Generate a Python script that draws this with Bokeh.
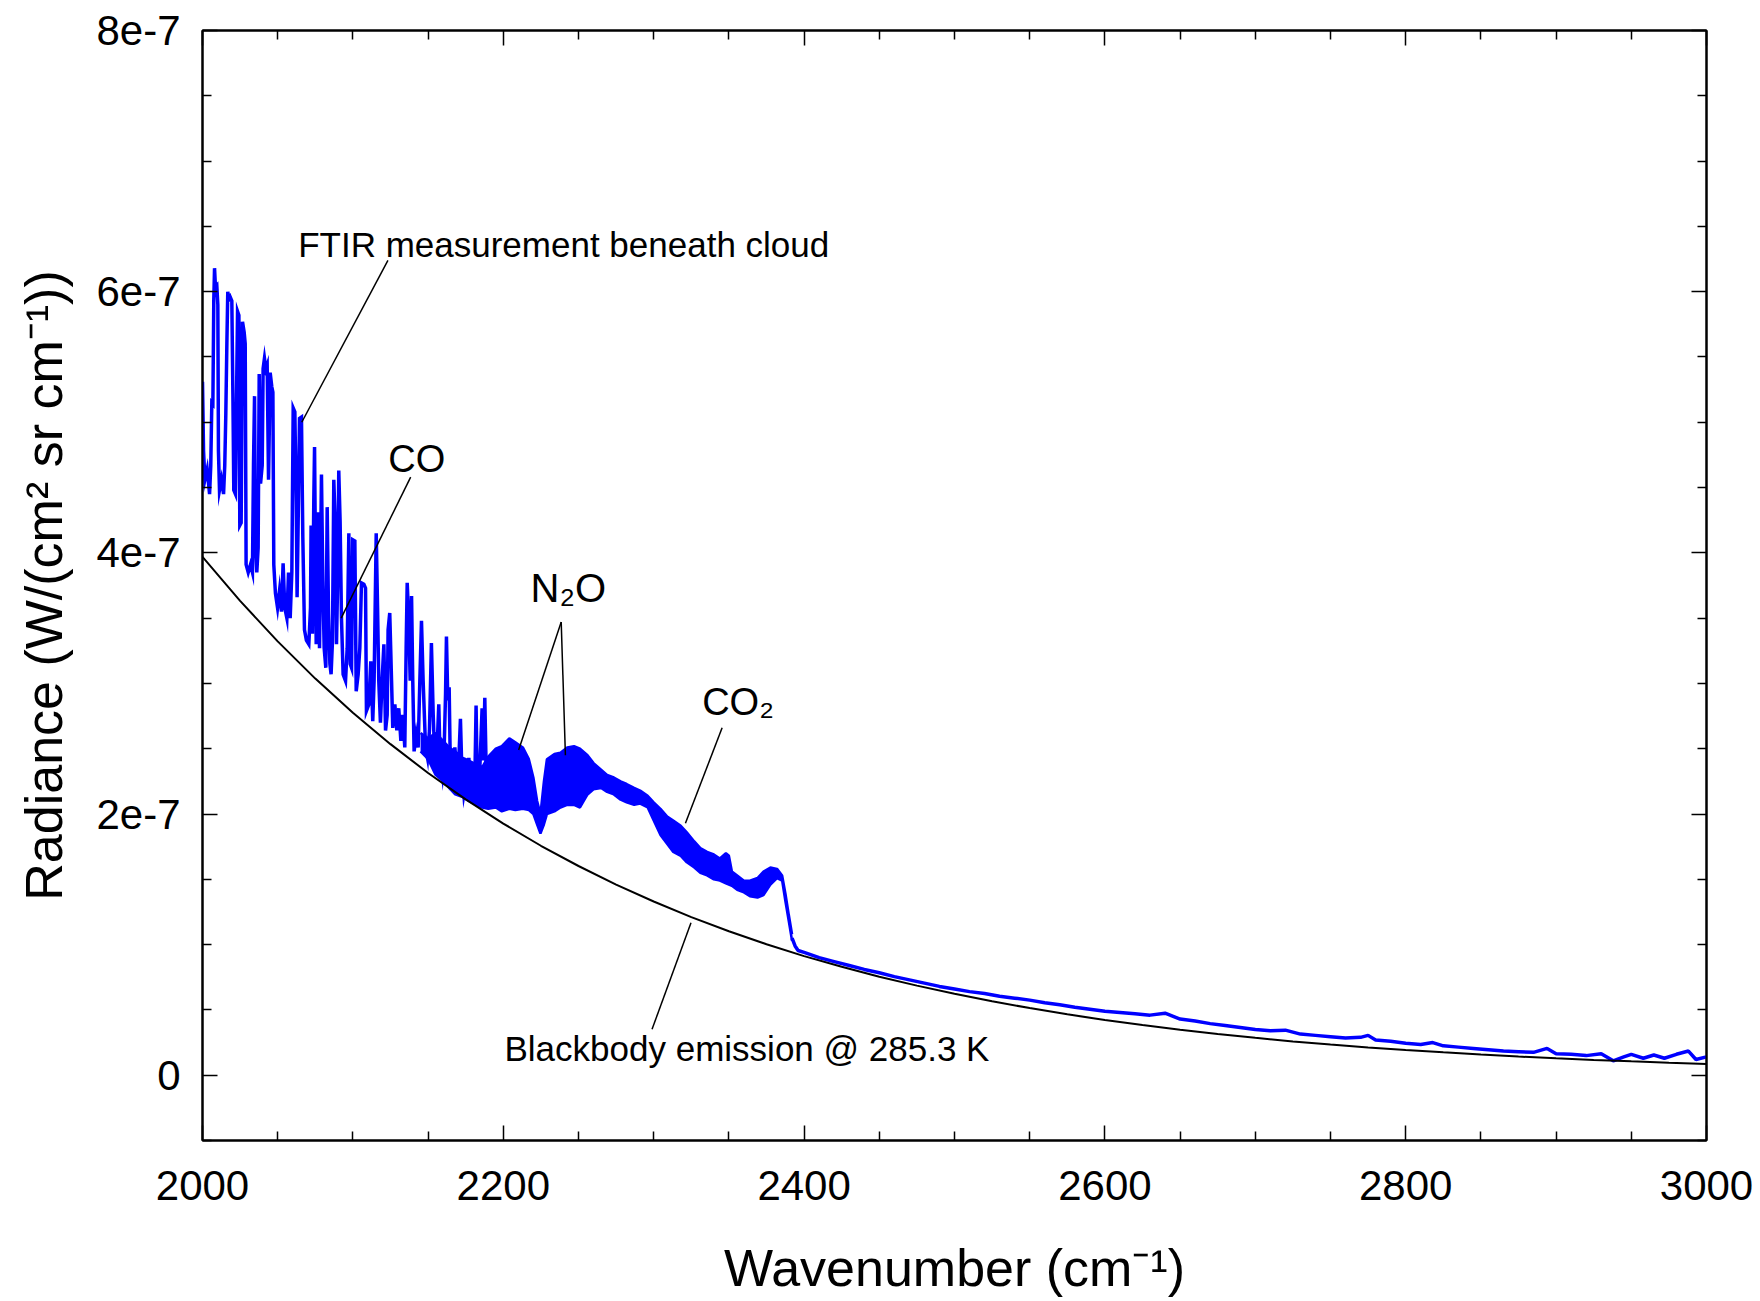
from bokeh.plotting import figure
from bokeh.models import Range1d, LinearAxis, FixedTicker, CustomJSTickFormatter, ColumnDataSource
from bokeh.embed import file_html
from bokeh.resources import INLINE
from bokeh.core.properties import value

UNIT = 1e-7  # all radiance values below are in units of 1e-7 W/(cm2 sr cm-1)

# ---- FTIR spectrum, line-rich part (2000-2190 cm-1) ----
spike_nu = [2000.0, 2000.7, 2001.6, 2003.1, 2004.7, 2005.5, 2006.2, 2006.9, 2007.5, 2008.0,
            2008.6, 2009.5, 2010.2, 2010.6, 2011.3, 2012.6, 2014.0, 2014.8, 2015.5, 2016.2,
            2016.8, 2017.5, 2018.4, 2019.5, 2020.2, 2020.8, 2021.9, 2022.8, 2023.3, 2024.2,
            2024.8, 2025.7, 2026.6, 2027.7, 2028.4, 2029.0, 2030.4, 2031.9, 2033.2, 2033.9,
            2034.6, 2035.2, 2036.1, 2037.0, 2037.7, 2038.6, 2039.7, 2040.3, 2041.2, 2042.1,
            2043.0, 2043.9, 2045.0, 2046.1, 2046.8, 2047.4, 2048.5, 2049.9, 2051.2, 2052.5,
            2053.6, 2054.7, 2056.1, 2057.2, 2058.3, 2059.4, 2060.3, 2061.4, 2062.3, 2062.9,
            2063.8, 2064.5, 2065.8, 2066.7, 2067.8, 2069.1, 2070.7, 2071.8, 2072.2, 2073.1,
            2074.0, 2074.5, 2075.6, 2076.9, 2077.8, 2079.1, 2080.0, 2080.9, 2082.0, 2082.9,
            2083.8, 2084.7, 2085.5, 2086.4, 2087.3, 2088.2, 2089.1, 2090.0, 2090.6, 2091.5,
            2092.4, 2093.5, 2095.1, 2096.2, 2097.3, 2098.2, 2099.1, 2099.9, 2101.3, 2102.2,
            2103.5, 2104.6, 2105.7, 2107.3, 2108.4, 2109.0, 2110.6, 2111.9, 2113.2, 2114.1,
            2115.5, 2116.4, 2117.2, 2118.3, 2119.4, 2120.6, 2121.7, 2122.8, 2123.4, 2124.5,
            2125.7, 2126.5, 2127.9, 2129.2, 2130.5, 2131.9, 2133.2, 2134.5, 2135.4, 2136.1,
            2137.0, 2138.1, 2139.0, 2139.8, 2140.7, 2142.1, 2143.4, 2144.5, 2145.6, 2146.7,
            2148.3, 2149.6, 2150.9, 2152.2, 2153.4, 2154.5, 2156.0, 2157.1, 2158.0, 2159.4,
            2160.7, 2161.6, 2162.2, 2163.1, 2164.0, 2164.9, 2166.4, 2167.8, 2169.1, 2170.4,
            2171.5, 2172.4, 2173.8, 2175.3, 2177.1, 2178.4, 2180.2, 2181.3, 2181.9, 2182.8,
            2184.4, 2185.9, 2186.8, 2187.7, 2188.6, 2190.4]
spike_val = [5.31, 4.78, 4.56, 4.64, 4.45, 4.67, 5.15, 5.14, 5.93, 6.18,
             6.04, 6.05, 5.90, 4.78, 4.48, 4.56, 4.45, 4.67, 5.06, 5.60,
             6.00, 5.94, 5.96, 5.93, 5.22, 4.48, 4.45, 5.36, 5.85, 5.82,
             4.21, 4.23, 5.77, 5.69, 5.60, 3.91, 3.85, 3.91, 3.85, 4.67,
             5.20, 4.07, 3.85, 4.04, 5.37, 4.53, 4.67, 5.41, 5.49, 5.41,
             5.44, 4.56, 5.38, 5.27, 5.23, 3.91, 3.69, 3.58, 3.71, 3.55,
             3.92, 3.58, 3.50, 3.85, 3.50, 3.85, 5.11, 5.08, 4.40, 3.66,
             4.40, 5.03, 5.04, 4.12, 3.41, 3.33, 3.30, 3.58, 4.21, 3.38,
             4.40, 4.81, 3.30, 4.31, 3.27, 4.60, 3.78, 3.27, 3.12, 4.35,
             3.53, 3.15, 3.07, 3.32, 4.56, 4.24, 3.30, 3.89, 4.63, 4.24,
             3.50, 3.07, 3.02, 3.27, 4.15, 3.15, 3.12, 4.10, 4.09, 2.94,
             3.07, 3.27, 3.77, 3.76, 3.73, 2.79, 2.84, 3.17, 2.71, 3.02,
             4.15, 3.58, 3.02, 2.70, 3.02, 3.30, 2.64, 2.76, 3.41, 3.54,
             3.02, 2.66, 2.84, 2.64, 2.81, 2.56, 2.76, 2.51, 3.27, 3.77,
             3.53, 3.02, 3.67, 3.02, 2.48, 2.61, 2.51, 3.02, 3.48, 3.02,
             2.51, 2.43, 2.64, 3.31, 2.76, 2.40, 2.51, 2.84, 2.41, 2.30,
             2.51, 2.92, 3.36, 2.87, 2.97, 2.28, 2.35, 2.51, 2.30, 2.41,
             2.73, 2.35, 2.15, 2.25, 2.43, 2.18, 2.15, 2.41, 2.83, 2.15,
             2.35, 2.81, 2.41, 2.89, 2.35, 2.10]

# ---- FTIR spectrum, dense N2O / CO2 band (envelope) ----
band_nu = [2145, 2150, 2155, 2160, 2164, 2168, 2173, 2177, 2182, 2186,
           2190, 2195, 2199, 2204, 2208, 2213, 2217, 2220, 2222.5, 2224.7,
           2227, 2229, 2234, 2238, 2242.5, 2247, 2251, 2256, 2260, 2265,
           2269, 2273.5, 2278, 2282, 2287, 2291, 2296, 2300, 2304.5, 2309,
           2313, 2318, 2322, 2327, 2331, 2335.5, 2340, 2344, 2348, 2350,
           2352, 2355.5, 2360, 2364, 2369, 2373, 2377.6, 2382, 2385.4, 2387.6,
           2389.8, 2392]
band_lo = [2.48, 2.42, 2.30, 2.25, 2.20, 2.15, 2.13, 2.10, 2.07, 2.05,
           2.04, 2.05, 2.02, 2.04, 2.03, 2.04, 2.03, 2.00, 1.92, 1.85,
           1.92, 2.00, 2.02, 2.05, 2.07, 2.07, 2.05, 2.15, 2.19, 2.20,
           2.17, 2.15, 2.11, 2.09, 2.07, 2.08, 2.05, 1.95, 1.84, 1.77,
           1.71, 1.68, 1.63, 1.59, 1.55, 1.53, 1.50, 1.49, 1.47, 1.46,
           1.45, 1.42, 1.40, 1.37, 1.36, 1.38, 1.46, 1.51, 1.49, 1.33,
           1.18, 1.03]
band_hi = [2.62, 2.58, 2.62, 2.56, 2.51, 2.48, 2.43, 2.41, 2.38, 2.36,
           2.44, 2.50, 2.52, 2.58, 2.55, 2.51, 2.42, 2.28, 2.10, 2.00,
           2.25, 2.42, 2.46, 2.47, 2.51, 2.52, 2.50, 2.45, 2.39, 2.34,
           2.30, 2.28, 2.25, 2.23, 2.20, 2.18, 2.14, 2.09, 2.04, 1.98,
           1.95, 1.91, 1.86, 1.79, 1.74, 1.71, 1.69, 1.66, 1.70, 1.68,
           1.56, 1.53, 1.49, 1.49, 1.51, 1.56, 1.59, 1.58, 1.53, 1.39,
           1.23, 1.08]

# ---- FTIR spectrum, window region (2392-3000 cm-1) ----
tail_nu = [2392, 2394, 2396, 2400, 2410, 2420, 2430, 2440, 2450, 2460,
           2470, 2480, 2490, 2500, 2510, 2520, 2530, 2540, 2550, 2560,
           2570, 2580, 2590, 2600, 2610, 2620, 2630, 2640, 2650, 2660,
           2670, 2680, 2690, 2700, 2710, 2720, 2730, 2740, 2750, 2760,
           2770, 2775, 2780, 2790, 2800, 2810, 2818, 2825, 2835, 2845,
           2855, 2865, 2875, 2885, 2894, 2900, 2910, 2920, 2930, 2938,
           2945, 2950, 2958, 2965, 2972, 2980, 2988, 2993, 3000]
tail_val = [1.05, 0.99, 0.955, 0.94, 0.90, 0.87, 0.84, 0.81, 0.785, 0.755,
            0.73, 0.705, 0.68, 0.66, 0.64, 0.625, 0.605, 0.59, 0.575, 0.555,
            0.54, 0.52, 0.505, 0.49, 0.48, 0.47, 0.46, 0.475, 0.43, 0.415,
            0.395, 0.38, 0.365, 0.35, 0.34, 0.345, 0.315, 0.305, 0.295, 0.285,
            0.29, 0.305, 0.27, 0.26, 0.245, 0.235, 0.25, 0.225, 0.215, 0.205,
            0.195, 0.185, 0.18, 0.175, 0.205, 0.165, 0.16, 0.15, 0.165, 0.11,
            0.14, 0.16, 0.13, 0.155, 0.13, 0.16, 0.185, 0.12, 0.14]

# ---- Blackbody emission @ 285.3 K ----
bb_nu = [2000, 2025, 2050, 2075, 2100, 2125, 2150, 2175, 2200, 2225,
         2250, 2275, 2300, 2325, 2350, 2375, 2400, 2425, 2450, 2475,
         2500, 2525, 2550, 2575, 2600, 2625, 2650, 2675, 2700, 2725,
         2750, 2775, 2800, 2825, 2850, 2875, 2900, 2925, 2950, 2975, 3000]
bb_val = [3.969, 3.632, 3.322, 3.037, 2.775, 2.535, 2.314, 2.112, 1.927, 1.757,
          1.602, 1.460, 1.330, 1.211, 1.102, 1.003, 0.912, 0.830, 0.754, 0.686,
          0.623, 0.566, 0.514, 0.466, 0.423, 0.384, 0.348, 0.316, 0.286, 0.259,
          0.235, 0.213, 0.193, 0.175, 0.158, 0.143, 0.129, 0.117, 0.106, 0.096, 0.0865]

# ---- axes ----
x_major = [2000, 2200, 2400, 2600, 2800, 3000]
x_minor = [2050, 2100, 2150, 2250, 2300, 2350, 2450, 2500, 2550, 2650, 2700, 2750,
           2850, 2900, 2950]
y_major = [0, 2, 4, 6, 8]
y_minor = [-0.5, 0.5, 1, 1.5, 2.5, 3, 3.5, 4.5, 5, 5.5, 6.5, 7, 7.5]
x_title = "Wavenumber (cm\u207b\u00b9)"
y_title = "Radiance (W/(cm\u00b2 sr cm\u207b\u00b9))"

# ---- annotations (text, anchor, leader lines) ----
ann_text = ["FTIR measurement beneath cloud", "CO", "N\u2082O", "CO\u2082",
            "Blackbody emission @ 285.3 K"]
ann_x = [2063.6, 2123.5, 2218.1, 2332.2, 2200.8]
ann_y = [6.36, 4.72, 3.73, 2.855, 0.205]
ann_size = ["35px", "38px", "40px", "38px", "35px"]
lead_x0 = [2123.3, 2138.4, 2238.5, 2238.5, 2345.5, 2324.8]
lead_y0 = [6.24, 4.58, 3.47, 3.47, 2.66, 1.167]
lead_x1 = [2066.0, 2092.2, 2210.2, 2241.3, 2321.1, 2298.9]
lead_y1 = [5.00, 3.50, 2.49, 2.45, 1.93, 0.352]

FONT = "Liberation Sans"
BLUE = "#0000ff"


def sc(vals):
    return [v * UNIT for v in vals]


p = figure(width=1760, height=1301, output_backend="svg", toolbar_location=None,
           x_range=Range1d(2000, 3000), y_range=Range1d(-0.5 * UNIT, 8 * UNIT),
           min_border_left=202, min_border_right=54, min_border_top=30,
           min_border_bottom=161, background_fill_color="white",
           border_fill_color="white", outline_line_color="black", outline_line_width=2)
p.xgrid.grid_line_color = None
p.ygrid.grid_line_color = None

xt = FixedTicker(ticks=x_major, minor_ticks=x_minor)
yt = FixedTicker(ticks=sc(y_major), minor_ticks=sc(y_minor))
yfmt = CustomJSTickFormatter(code="""
    if (Math.abs(tick) < 1e-12) { return '0'; }
    return Math.round(tick * 1e7) + 'e-7';
""")


def style(ax, labels=True):
    ax.axis_line_color = "black"
    ax.axis_line_width = 2
    ax.major_tick_in = 15
    ax.major_tick_out = 0
    ax.minor_tick_in = 9
    ax.minor_tick_out = 0
    ax.major_tick_line_color = "black"
    ax.minor_tick_line_color = "black"
    ax.major_tick_line_width = 1.5
    ax.minor_tick_line_width = 1.5
    if labels:
        ax.major_label_text_font = FONT
        ax.major_label_text_font_size = "42px"
        ax.major_label_text_color = "black"
        ax.axis_label_text_font = FONT
        ax.axis_label_text_font_size = "52px"
        ax.axis_label_text_font_style = "normal"
        ax.axis_label_text_color = "black"
    else:
        ax.major_label_text_color = None
        ax.major_label_text_font_size = "1px"


xa = p.xaxis[0]
xa.ticker = xt
xa.axis_label = x_title
xa.major_label_standoff = 30
xa.axis_label_standoff = 36
style(xa)

ya = p.yaxis[0]
ya.ticker = yt
ya.formatter = yfmt
ya.axis_label = y_title
ya.major_label_standoff = 22
ya.axis_label_standoff = 20
style(ya)

top = LinearAxis(ticker=FixedTicker(ticks=x_major, minor_ticks=x_minor))
style(top, labels=False)
p.add_layout(top, "above")
right = LinearAxis(ticker=FixedTicker(ticks=sc(y_major), minor_ticks=sc(y_minor)))
style(right, labels=False)
p.add_layout(right, "right")

# spectrum
band_src = ColumnDataSource(dict(x=band_nu, lo=sc(band_lo), hi=sc(band_hi)))
p.varea(x="x", y1="lo", y2="hi", source=band_src, fill_color=BLUE)
p.line(x="x", y="hi", source=band_src, line_color=BLUE, line_width=2.5)
p.line(x="x", y="lo", source=band_src, line_color=BLUE, line_width=2.5)
p.line(x=spike_nu, y=sc(spike_val), line_color=BLUE, line_width=3.5, line_join="miter")
p.line(x=tail_nu, y=sc(tail_val), line_color=BLUE, line_width=3.5)

# blackbody
p.line(x=bb_nu, y=sc(bb_val), line_color="black", line_width=2)

# leader lines
p.segment(x0=lead_x0, y0=sc(lead_y0), x1=lead_x1, y1=sc(lead_y1),
          line_color="black", line_width=1.5)

# annotation texts
ann_src = ColumnDataSource(dict(x=ann_x, y=sc(ann_y), text=ann_text, size=ann_size))
p.text(x="x", y="y", text="text", source=ann_src, text_font=value(FONT),
       text_font_size="size", text_align="left", text_baseline="middle",
       text_color="black")

open("out.html", "w").write(file_html(p, INLINE))
